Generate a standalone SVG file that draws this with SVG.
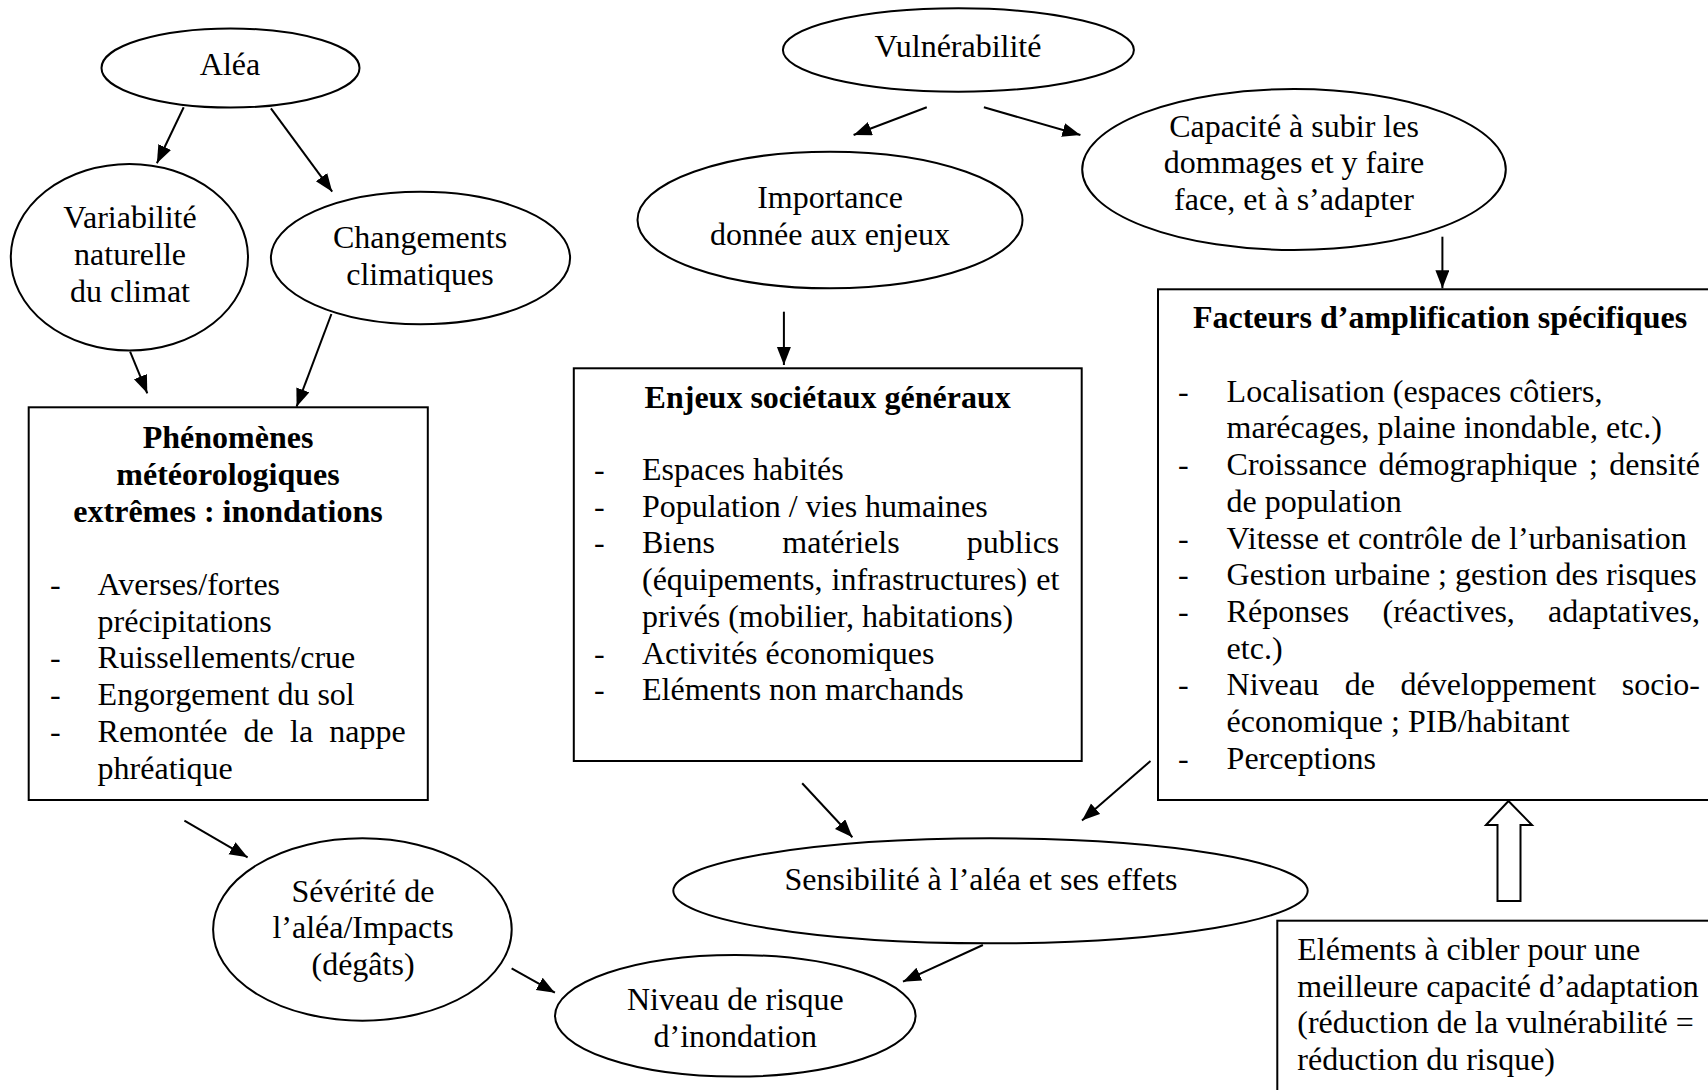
<svg xmlns="http://www.w3.org/2000/svg" width="1708" height="1090" viewBox="0 0 1708 1090">
<defs>
<style>
.shape{fill:#fff;stroke:#000;stroke-width:2}
.t{font-family:"Liberation Serif","Times New Roman",serif;font-size:32px;fill:#000}
.c{text-anchor:middle}
.b{font-weight:bold}
.e{text-anchor:end}
.conn{fill:none;stroke:#000;stroke-width:2;marker-end:url(#ah)}
</style>
<marker id="ah" markerUnits="userSpaceOnUse" markerWidth="20" markerHeight="16" refX="18" refY="7" orient="auto">
<path d="M0,0 L18,7 L0,14 z" fill="#000"/>
</marker>
</defs>
<rect width="1708" height="1090" fill="#fff"/>

<g id="alea">
<ellipse class="shape" cx="230.5" cy="68" rx="129" ry="39.5"/>
<text class="t c" x="230" y="75">Aléa</text>
</g>

<g id="variabilite">
<ellipse class="shape" cx="129.4" cy="257.3" rx="118.6" ry="93.3"/>
<text class="t c" x="130" y="228">Variabilité</text>
<text class="t c" x="130" y="265">naturelle</text>
<text class="t c" x="130" y="302">du climat</text>
</g>

<g id="changements">
<ellipse class="shape" cx="420.5" cy="258" rx="149.6" ry="66.2"/>
<text class="t c" x="420" y="248">Changements</text>
<text class="t c" x="420" y="285">climatiques</text>
</g>

<g id="phenomenes">
<rect class="shape" x="28.7" y="407.3" width="399.1" height="392.7"/>
<text class="t c b" x="228" y="447.7">Phénomènes</text>
<text class="t c b" x="228" y="485">météorologiques</text>
<text class="t c b" x="228" y="521.7">extrêmes : inondations</text>
<text class="t" x="50" y="595">-</text>
<text class="t" x="97.6" y="595">Averses/fortes</text>
<text class="t" x="97.6" y="631.7">précipitations</text>
<text class="t" x="50" y="668.4">-</text>
<text class="t" x="97.6" y="668.4">Ruissellements/crue</text>
<text class="t" x="50" y="705.1">-</text>
<text class="t" x="97.6" y="705.1">Engorgement du sol</text>
<text class="t" x="50" y="741.8">-</text>
<text class="t" y="741.8"><tspan x="97.6">Remontée</tspan><tspan x="243.6">de</tspan><tspan x="290">la</tspan></text>
<text class="t e" x="405.6" y="741.8">nappe</text>
<text class="t" x="97.6" y="778.5">phréatique</text>
</g>

<g id="vulnerabilite">
<ellipse class="shape" cx="958.4" cy="50" rx="175.5" ry="41.7"/>
<text class="t c" x="958" y="57">Vulnérabilité</text>
</g>

<g id="importance">
<ellipse class="shape" cx="830" cy="220" rx="192.5" ry="68.3"/>
<text class="t c" x="830" y="208.3">Importance</text>
<text class="t c" x="830" y="245">donnée aux enjeux</text>
</g>

<g id="capacite">
<ellipse class="shape" cx="1294" cy="169.5" rx="211.8" ry="80.5"/>
<text class="t c" x="1294" y="136.7">Capacité à subir les</text>
<text class="t c" x="1294" y="173.4">dommages et y faire</text>
<text class="t c" x="1294" y="210.1">face, et à s’adapter</text>
</g>

<g id="enjeux">
<rect class="shape" x="573.8" y="368.3" width="507.9" height="392.7"/>
<text class="t c b" x="827.7" y="408.3">Enjeux sociétaux généraux</text>
<text class="t" x="594" y="480">-</text>
<text class="t" x="642" y="480">Espaces habités</text>
<text class="t" x="594" y="516.7">-</text>
<text class="t" x="642" y="516.7">Population / vies humaines</text>
<text class="t" x="594" y="553.4">-</text>
<text class="t" y="553.4"><tspan x="642">Biens</tspan><tspan x="782.3">matériels</tspan></text>
<text class="t e" x="1059.3" y="553.4">publics</text>
<text class="t" y="590.1"><tspan x="642">(équipements,</tspan><tspan x="831.6">infrastructures)</tspan></text>
<text class="t e" x="1059.3" y="590.1">et</text>
<text class="t" x="642" y="626.8">privés (mobilier, habitations)</text>
<text class="t" x="594" y="663.5">-</text>
<text class="t" x="642" y="663.5">Activités économiques</text>
<text class="t" x="594" y="700.2">-</text>
<text class="t" x="642" y="700.2">Eléments non marchands</text>
</g>

<g id="facteurs">
<rect class="shape" x="1158" y="289.3" width="560" height="510.7"/>
<text class="t c b" x="1440" y="328.3">Facteurs d’amplification spécifiques</text>
<text class="t" x="1178" y="401.7">-</text>
<text class="t" x="1226.6" y="401.7">Localisation (espaces côtiers,</text>
<text class="t" x="1226.6" y="438.4">marécages, plaine inondable, etc.)</text>
<text class="t" x="1178" y="475.1">-</text>
<text class="t" y="475.1"><tspan x="1226.6">Croissance</tspan><tspan x="1378.5">démographique</tspan><tspan x="1589">;</tspan></text>
<text class="t e" x="1700" y="475.1">densité</text>
<text class="t" x="1226.6" y="511.8">de population</text>
<text class="t" x="1178" y="548.5">-</text>
<text class="t" x="1226.6" y="548.5">Vitesse et contrôle de l’urbanisation</text>
<text class="t" x="1178" y="585.2">-</text>
<text class="t" x="1226.6" y="585.2">Gestion urbaine ; gestion des risques</text>
<text class="t" x="1178" y="621.9">-</text>
<text class="t" y="621.9"><tspan x="1226.6">Réponses</tspan><tspan x="1382.5">(réactives,</tspan></text>
<text class="t e" x="1700" y="621.9">adaptatives,</text>
<text class="t" x="1226.6" y="658.6">etc.)</text>
<text class="t" x="1178" y="695.3">-</text>
<text class="t" y="695.3"><tspan x="1226.6">Niveau</tspan><tspan x="1344.7">de</tspan><tspan x="1400.6">développement</tspan></text>
<text class="t e" x="1700" y="695.3">socio-</text>
<text class="t" x="1226.6" y="732">économique ; PIB/habitant</text>
<text class="t" x="1178" y="768.7">-</text>
<text class="t" x="1226.6" y="768.7">Perceptions</text>
</g>

<g id="severite">
<ellipse class="shape" cx="362.4" cy="929.5" rx="149.3" ry="91.2"/>
<text class="t c" x="363" y="901.7">Sévérité de</text>
<text class="t c" x="363" y="938.4">l’aléa/Impacts</text>
<text class="t c" x="363" y="975.1">(dégâts)</text>
</g>

<g id="sensibilite">
<ellipse class="shape" cx="990.5" cy="890.8" rx="317.2" ry="52.5"/>
<text class="t c" x="981" y="890">Sensibilité à l’aléa et ses effets</text>
</g>

<g id="niveau">
<ellipse class="shape" cx="735.3" cy="1015.8" rx="180.3" ry="60.8"/>
<text class="t c" x="735.3" y="1010">Niveau de risque</text>
<text class="t c" x="735.3" y="1046.7">d’inondation</text>
</g>

<g id="elements">
<rect class="shape" x="1277.3" y="920.7" width="440" height="180"/>
<text class="t" x="1297.3" y="960">Eléments à cibler pour une</text>
<text class="t" x="1297.3" y="996.7">meilleure capacité d’adaptation</text>
<text class="t" x="1297.3" y="1033.4">(réduction de la vulnérabilité =</text>
<text class="t" x="1297.3" y="1070.1">réduction du risque)</text>
</g>

<g id="connectors">
<path class="conn" d="M183.7,107.3 L156.9,163.3"/>
<path class="conn" d="M270.9,108.3 L332.2,191.7"/>
<path class="conn" d="M130.1,351.7 L147.3,393.3"/>
<path class="conn" d="M331.4,314 L296.6,406.7"/>
<path class="conn" d="M926.8,107.3 L853.6,135"/>
<path class="conn" d="M983.9,107.3 L1080.4,135"/>
<path class="conn" d="M783.9,311.7 L783.9,365"/>
<path class="conn" d="M1442.4,236.7 L1442.4,288.3"/>
<path class="conn" d="M184.4,820.7 L247.6,857.3"/>
<path class="conn" d="M511.6,968.3 L554.9,992.7"/>
<path class="conn" d="M802.2,783.3 L852.4,837.3"/>
<path class="conn" d="M1150.5,761 L1082,820.5"/>
<path class="conn" d="M982.9,945 L903,981.7"/>
<polygon class="shape" points="1508.5,801 1532,825 1520.5,825 1520.5,901 1497.5,901 1497.5,825 1486,825"/>
</g>
</svg>
